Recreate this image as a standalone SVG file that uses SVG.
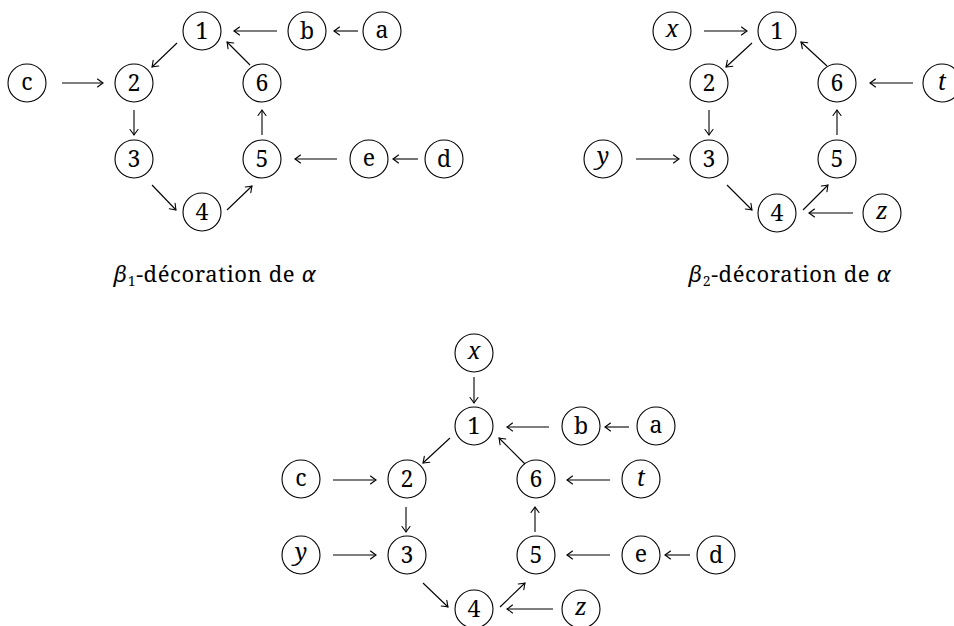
<svg xmlns="http://www.w3.org/2000/svg" width="954" height="626" viewBox="0 0 954 626">
<defs>
<style>
.nd circle{fill:#fff;stroke:#000;stroke-width:1.1}
.nd text{font-family:"Noto Serif","DejaVu Serif",serif;font-size:23px;text-anchor:middle;fill:#000}
.it{font-style:italic}
.cx line{stroke:#000;stroke-width:1.1;marker-end:url(#ah)}
.cap{font-family:"Noto Serif","DejaVu Serif",serif;font-size:22px;fill:#000;text-anchor:middle;letter-spacing:0.6px}
</style>
<marker id="ah" markerUnits="userSpaceOnUse" viewBox="-7 -5 8 10" refX="0" refY="0" markerWidth="8" markerHeight="10" orient="auto" overflow="visible">
<path d="M -5.5 -4 Q -1.5 -1 0 0 Q -1.5 1 -5.5 4" fill="none" stroke="#000" stroke-width="1.1" stroke-linecap="round"/>
</marker>
</defs>
<rect width="954" height="626" fill="#fff"/>

<!-- Diagram 1 -->
<g id="d1-n1" class="nd"><circle cx="202" cy="31" r="19"/><text x="202" y="39">1</text></g>
<g id="d1-b" class="nd"><circle cx="307" cy="31" r="19"/><text x="307" y="39">b</text></g>
<g id="d1-a" class="nd"><circle cx="382" cy="31" r="19"/><text x="382" y="38">a</text></g>
<g id="d1-c" class="nd"><circle cx="27" cy="83" r="19"/><text x="27" y="90">c</text></g>
<g id="d1-n2" class="nd"><circle cx="134" cy="83" r="19"/><text x="134" y="91">2</text></g>
<g id="d1-n6" class="nd"><circle cx="262" cy="83" r="19"/><text x="262" y="91">6</text></g>
<g id="d1-n3" class="nd"><circle cx="134" cy="159" r="19"/><text x="134" y="167">3</text></g>
<g id="d1-n5" class="nd"><circle cx="262" cy="159" r="19"/><text x="262" y="167">5</text></g>
<g id="d1-e" class="nd"><circle cx="369" cy="159" r="19"/><text x="369" y="166">e</text></g>
<g id="d1-d" class="nd"><circle cx="444" cy="159" r="19"/><text x="444" y="167">d</text></g>
<g id="d1-n4" class="nd"><circle cx="202" cy="212" r="19"/><text x="202" y="220">4</text></g>

<!-- Diagram 2 -->
<g id="d2-x" class="nd"><circle cx="672" cy="31" r="19"/><text class="it" x="672" y="37">x</text></g>
<g id="d2-n1" class="nd"><circle cx="777" cy="31" r="19"/><text x="777" y="39">1</text></g>
<g id="d2-n2" class="nd"><circle cx="709" cy="83" r="19"/><text x="709" y="91">2</text></g>
<g id="d2-n6" class="nd"><circle cx="837" cy="83" r="19"/><text x="837" y="91">6</text></g>
<g id="d2-t" class="nd"><circle cx="942" cy="83" r="19"/><text class="it" x="942" y="90">t</text></g>
<g id="d2-y" class="nd"><circle cx="603" cy="159" r="19"/><text class="it" x="603" y="164">y</text></g>
<g id="d2-n3" class="nd"><circle cx="709" cy="159" r="19"/><text x="709" y="167">3</text></g>
<g id="d2-n5" class="nd"><circle cx="837" cy="159" r="19"/><text x="837" y="167">5</text></g>
<g id="d2-n4" class="nd"><circle cx="777" cy="213" r="19"/><text x="777" y="221">4</text></g>
<g id="d2-z" class="nd"><circle cx="882" cy="213" r="19"/><text class="it" x="882" y="219">z</text></g>

<!-- Diagram 3 -->
<g id="d3-x" class="nd"><circle cx="474" cy="353" r="19"/><text class="it" x="474" y="359">x</text></g>
<g id="d3-n1" class="nd"><circle cx="474" cy="426" r="19"/><text x="474" y="434">1</text></g>
<g id="d3-b" class="nd"><circle cx="581" cy="426" r="19"/><text x="581" y="434">b</text></g>
<g id="d3-a" class="nd"><circle cx="656" cy="426" r="19"/><text x="656" y="433">a</text></g>
<g id="d3-c" class="nd"><circle cx="301" cy="479" r="19"/><text x="301" y="486">c</text></g>
<g id="d3-n2" class="nd"><circle cx="407" cy="479" r="19"/><text x="407" y="487">2</text></g>
<g id="d3-n6" class="nd"><circle cx="536" cy="479" r="19"/><text x="536" y="487">6</text></g>
<g id="d3-t" class="nd"><circle cx="641" cy="479" r="19"/><text class="it" x="641" y="486">t</text></g>
<g id="d3-y" class="nd"><circle cx="301" cy="555" r="19"/><text class="it" x="301" y="560">y</text></g>
<g id="d3-n3" class="nd"><circle cx="407" cy="555" r="19"/><text x="407" y="563">3</text></g>
<g id="d3-n5" class="nd"><circle cx="536" cy="555" r="19"/><text x="536" y="563">5</text></g>
<g id="d3-e" class="nd"><circle cx="641" cy="555" r="19"/><text x="641" y="562">e</text></g>
<g id="d3-d" class="nd"><circle cx="716" cy="555" r="19"/><text x="716" y="563">d</text></g>
<g id="d3-n4" class="nd"><circle cx="474" cy="609" r="19"/><text x="474" y="617">4</text></g>
<g id="d3-z" class="nd"><circle cx="581" cy="609" r="19"/><text class="it" x="581" y="615">z</text></g>

<!-- Connectors -->
<g id="connectors" class="cx">
<line x1="277" y1="31" x2="234" y2="31"/>
<line x1="358" y1="31" x2="334" y2="31"/>
<line x1="62" y1="83" x2="103" y2="83"/>
<line x1="177" y1="43" x2="152" y2="67"/>
<line x1="134" y1="110" x2="134" y2="135"/>
<line x1="152" y1="185" x2="176" y2="210"/>
<line x1="227" y1="210" x2="252" y2="186"/>
<line x1="262" y1="135" x2="262" y2="110"/>
<line x1="250" y1="65" x2="227" y2="42"/>
<line x1="337" y1="159" x2="295" y2="159"/>
<line x1="418" y1="159" x2="393" y2="159"/>

<line x1="704" y1="31" x2="747" y2="31"/>
<line x1="752" y1="43" x2="726" y2="67"/>
<line x1="827" y1="66" x2="801" y2="42"/>
<line x1="913" y1="83" x2="870" y2="83"/>
<line x1="709" y1="110" x2="709" y2="135"/>
<line x1="636" y1="159" x2="679" y2="159"/>
<line x1="727" y1="185" x2="752" y2="210"/>
<line x1="803" y1="210" x2="828" y2="185"/>
<line x1="837" y1="135" x2="837" y2="110"/>
<line x1="853" y1="213" x2="809" y2="213"/>

<line x1="474" y1="377" x2="474" y2="403"/>
<line x1="549" y1="427" x2="507" y2="427"/>
<line x1="629" y1="427" x2="605" y2="427"/>
<line x1="450" y1="438" x2="423" y2="463"/>
<line x1="525" y1="464" x2="499" y2="438"/>
<line x1="333" y1="480" x2="376" y2="480"/>
<line x1="610" y1="480" x2="567" y2="480"/>
<line x1="406" y1="507" x2="406" y2="532"/>
<line x1="535" y1="532" x2="535" y2="507"/>
<line x1="333" y1="555" x2="376" y2="555"/>
<line x1="610" y1="555" x2="567" y2="555"/>
<line x1="690" y1="555" x2="665" y2="555"/>
<line x1="423" y1="583" x2="448" y2="607"/>
<line x1="500" y1="607" x2="525" y2="583"/>
<line x1="553" y1="609" x2="507" y2="609"/>
</g>

<!-- Captions -->
<text class="cap" x="215" y="282"><tspan font-style="italic">β</tspan><tspan font-size="14" dy="4">1</tspan><tspan dy="-4">-décoration de </tspan><tspan font-style="italic">α</tspan></text>
<text class="cap" x="790" y="282"><tspan font-style="italic">β</tspan><tspan font-size="14" dy="4">2</tspan><tspan dy="-4">-décoration de </tspan><tspan font-style="italic">α</tspan></text>
</svg>
